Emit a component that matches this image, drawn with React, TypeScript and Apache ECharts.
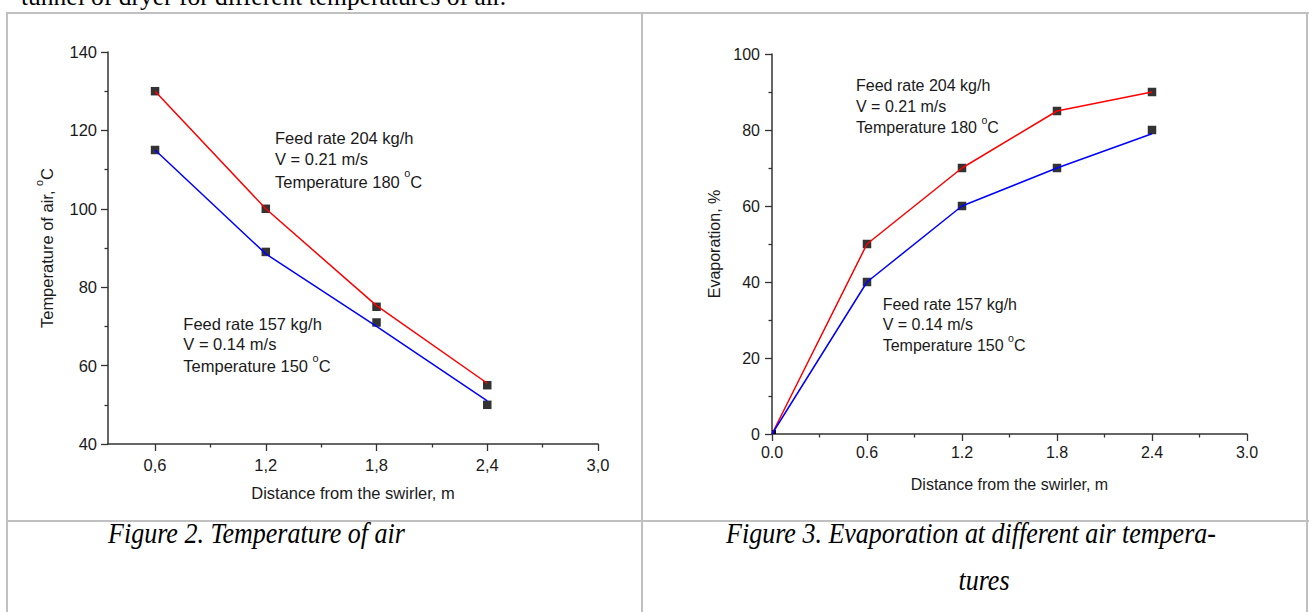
import React, { useEffect, useRef } from "react";
import * as echarts from "echarts";

// ---- Figure 2 data (Temperature of air) ----
const xValues1 = [0.6, 1.2, 1.8, 2.4];
const redPoints1 = [130, 100, 75, 55];
const bluePoints1 = [115, 89, 71, 50];
const redLine1 = [130, 100, 75.3, 55.5];
const blueLine1 = [115, 88.5, 70, 51];
const xTicks1 = [0.6, 1.2, 1.8, 2.4, 3.0];
const xLabels1 = ["0,6", "1,2", "1,8", "2,4", "3,0"];
const xMinor1 = [0.9, 1.5, 2.1, 2.7];

// ---- Figure 3 data (Evaporation) ----
const xValues2 = [0, 0.6, 1.2, 1.8, 2.4];
const redPoints2 = [0, 50, 70, 85, 90];
const bluePoints2 = [0, 40, 60, 70, 80];
const redLine2 = [0, 50, 70, 85, 90];
const blueLine2 = [0, 40, 60, 70, 79];

// ---- texts ----
const topText = "tunnel of dryer for different temperatures of air.";
const caption1 = "Figure 2. Temperature of air";
const caption2a = "Figure 3. Evaporation at different air tempera-";
const caption2b = "tures";
const xName = "Distance from the swirler, m";
const yName1 = "Temperature of air, {sup|o}C";
const yName2 = "Evaporation, %";
const noteHigh = ["Feed rate 204 kg/h", "V = 0.21 m/s", "Temperature 180 {sup|o}C"];
const noteLow = ["Feed rate 157 kg/h", "V = 0.14 m/s", "Temperature 150 {sup|o}C"];

const SANS = '"Liberation Sans", Arial, sans-serif';
const SERIF = '"Liberation Serif", "Times New Roman", serif';
const AX = "#333";
const TXT = "#1a1a1a";
const BORDER = "#c0c0c0";

const zip = (xs: number[], ys: number[]) => xs.map((x, i) => [x, ys[i]]);

function supRich(fs: number) {
  return { sup: { fontSize: fs * 0.66, fontFamily: SANS, color: TXT, fill: TXT, padding: [0, 0, fs * 1.0, 0] } };
}

function noteTexts(lines: string[], x: number, ys: number[], fs: number) {
  return lines.map((t, i) => ({
    type: "text",
    x,
    y: ys[i],
    style: {
      text: t,
      fontSize: fs,
      fontFamily: SANS,
      fill: TXT,
      align: "left",
      verticalAlign: "middle",
      rich: supRich(fs),
    },
  }));
}

function captionText(text: string, x: number, y: number) {
  return {
    type: "text",
    x,
    y,
    scaleY: 1.1,
    style: {
      text,
      fontSize: 26,
      fontStyle: "italic",
      fontFamily: SERIF,
      fill: "#000",
      align: "center",
      verticalAlign: "middle",
    },
  };
}

function axisCommon(fs: number) {
  return {
    axisLine: { show: true, onZero: false, lineStyle: { color: AX, width: 1.5 } },
    splitLine: { show: false },
    nameTextStyle: { fontSize: fs, fontFamily: SANS, color: TXT, rich: supRich(fs) },
  };
}

export default function App() {
  const ref = useRef<HTMLDivElement>(null);
  useEffect(() => {
    if (!ref.current) return;
    const chart = echarts.init(ref.current, null, { renderer: "svg" });
    const fs1 = 16.5;
    const fs2 = 16;
    const tickStyle = { color: AX, width: 1.3 };
    const option: any = {
      animation: false,
      backgroundColor: "#fff",
      grid: [
        { left: 108, top: 52, width: 490, height: 392 },
        { left: 772, top: 54, width: 475, height: 380 },
      ],
      xAxis: [
        {
          gridIndex: 0,
          type: "value",
          min: 0.345,
          max: 3.0,
          ...axisCommon(fs1),
          axisTick: { show: true, customValues: xTicks1, length: 7, lineStyle: tickStyle },
          axisLabel: {
            customValues: xTicks1,
            formatter: (v: number) => {
              const i = xTicks1.findIndex((t) => Math.abs(t - v) < 1e-6);
              return i >= 0 ? xLabels1[i] : "";
            },
            margin: 12,
            fontSize: fs1,
            fontFamily: SANS,
            color: TXT,
          },
          name: xName,
          nameLocation: "middle",
          nameGap: 40,
        },
        {
          gridIndex: 0,
          type: "value",
          position: "bottom",
          min: 0.345,
          max: 3.0,
          axisLine: { show: false, onZero: false },
          splitLine: { show: false },
          axisTick: { show: true, customValues: xMinor1, length: 3.5, lineStyle: tickStyle },
          axisLabel: { show: false },
        },
        {
          gridIndex: 1,
          type: "value",
          min: 0,
          max: 3.0,
          interval: 0.6,
          ...axisCommon(fs2),
          axisTick: { show: true, length: 7, lineStyle: tickStyle },
          minorTick: { show: true, splitNumber: 2, length: 3.5, lineStyle: tickStyle },
          axisLabel: {
            formatter: (v: number) => v.toFixed(1),
            margin: 10,
            fontSize: fs2,
            fontFamily: SANS,
            color: TXT,
          },
          name: xName,
          nameLocation: "middle",
          nameGap: 42,
        },
      ],
      yAxis: [
        {
          gridIndex: 0,
          type: "value",
          min: 40,
          max: 140,
          interval: 20,
          ...axisCommon(fs1),
          axisTick: { show: true, length: 7, lineStyle: tickStyle },
          minorTick: { show: true, splitNumber: 2, length: 3.5, lineStyle: tickStyle },
          axisLabel: { margin: 11, fontSize: fs1, fontFamily: SANS, color: TXT },
          name: yName1,
          nameLocation: "middle",
          nameRotate: 90,
          nameGap: 47,
        },
        {
          gridIndex: 1,
          type: "value",
          min: 0,
          max: 100,
          interval: 20,
          ...axisCommon(fs2),
          axisTick: { show: true, length: 7, lineStyle: tickStyle },
          minorTick: { show: true, splitNumber: 2, length: 3.5, lineStyle: tickStyle },
          axisLabel: { margin: 12, fontSize: fs2, fontFamily: SANS, color: TXT },
          name: yName2,
          nameLocation: "middle",
          nameRotate: 90,
          nameGap: 50,
        },
      ],
      series: [
        {
          type: "scatter",
          xAxisIndex: 0,
          yAxisIndex: 0,
          symbol: "rect",
          symbolSize: 8.5,
          itemStyle: { color: "#000" },
          data: zip(xValues1, redPoints1),
          z: 2,
        },
        {
          type: "scatter",
          xAxisIndex: 0,
          yAxisIndex: 0,
          symbol: "rect",
          symbolSize: 8.5,
          itemStyle: { color: "#000" },
          data: zip(xValues1, bluePoints1),
          z: 2,
        },
        {
          type: "line",
          xAxisIndex: 0,
          yAxisIndex: 0,
          symbol: "none",
          lineStyle: { color: "#ff0000", width: 1.5 },
          data: zip(xValues1, redLine1),
          z: 3,
        },
        {
          type: "line",
          xAxisIndex: 0,
          yAxisIndex: 0,
          symbol: "none",
          lineStyle: { color: "#0000ff", width: 1.5 },
          data: zip(xValues1, blueLine1),
          z: 3,
        },
        {
          type: "scatter",
          xAxisIndex: 2,
          yAxisIndex: 1,
          symbol: "rect",
          symbolSize: 8.5,
          itemStyle: { color: "#000" },
          data: zip(xValues2, redPoints2).map((p) =>
            p[0] === 0 ? { value: p, symbolSize: 4, symbolOffset: [2, -2] } : p
          ),
          z: 2,
        },
        {
          type: "scatter",
          xAxisIndex: 2,
          yAxisIndex: 1,
          symbol: "rect",
          symbolSize: 8.5,
          itemStyle: { color: "#000" },
          data: zip(xValues2, bluePoints2).map((p) =>
            p[0] === 0 ? { value: p, symbolSize: 4, symbolOffset: [2, -2] } : p
          ),
          z: 2,
        },
        {
          type: "line",
          xAxisIndex: 2,
          yAxisIndex: 1,
          symbol: "none",
          lineStyle: { color: "#ff0000", width: 1.5 },
          data: zip(xValues2, redLine2),
          z: 3,
        },
        {
          type: "line",
          xAxisIndex: 2,
          yAxisIndex: 1,
          symbol: "none",
          lineStyle: { color: "#0000ff", width: 1.5 },
          data: zip(xValues2, blueLine2),
          z: 3,
        },
      ],
      graphic: [
        // table borders
        { type: "line", shape: { x1: 6, y1: 13, x2: 1309, y2: 13 }, style: { stroke: BORDER, lineWidth: 2 } },
        { type: "line", shape: { x1: 7, y1: 12, x2: 7, y2: 612 }, style: { stroke: BORDER, lineWidth: 2 } },
        { type: "line", shape: { x1: 642, y1: 12, x2: 642, y2: 612 }, style: { stroke: BORDER, lineWidth: 2 } },
        { type: "line", shape: { x1: 1307, y1: 12, x2: 1307, y2: 612 }, style: { stroke: BORDER, lineWidth: 2 } },
        { type: "line", shape: { x1: 6, y1: 521, x2: 1309, y2: 521 }, style: { stroke: BORDER, lineWidth: 2 } },
        // top text (cut off by the page edge, as in the source)
        {
          type: "text",
          x: 21,
          y: -4,
          style: { text: topText, fontSize: 25.5, fontFamily: SERIF, fill: "#000", align: "left", verticalAlign: "middle" },
        },
        // captions
        captionText(caption1, 256.5, 534),
        captionText(caption2a, 971, 534),
        captionText(caption2b, 984, 581),
        ...noteTexts(noteHigh, 275, [137.5, 159, 181.5], fs1),
        ...noteTexts(noteLow, 183.3, [323.5, 343.5, 366], fs1),
        ...noteTexts(noteHigh, 856, [85.8, 106.2, 127.5], fs2),
        ...noteTexts(noteLow, 882.7, [304.2, 324.3, 345.8], fs2),
      ],
    };
    chart.setOption(option);
    return () => chart.dispose();
  }, []);
  return (
    <div
      ref={ref}
      style={{ position: "absolute", left: 0, top: 0, width: 1309, height: 612, background: "#fff" }}
    />
  );
}
